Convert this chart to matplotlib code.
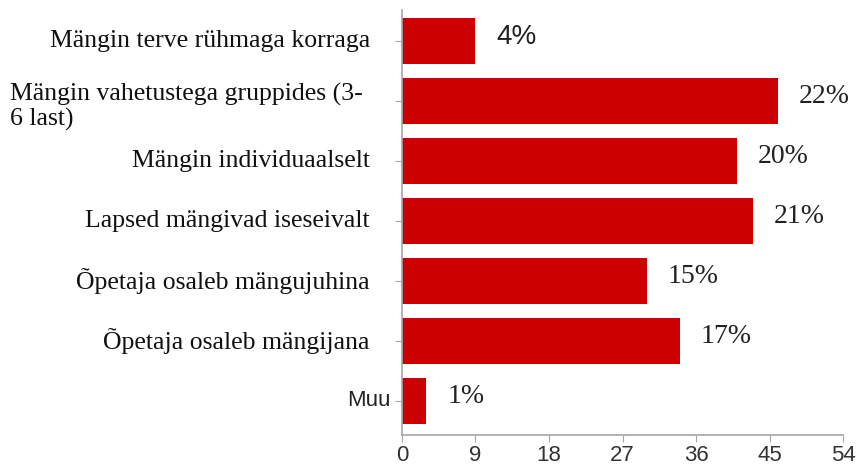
import matplotlib
matplotlib.use('Agg')
import matplotlib.pyplot as plt

labels = ['Mängin terve rühmaga korraga',
          'Mängin vahetustega gruppides (3-\n6 last)',
          'Mängin individuaalselt',
          'Lapsed mängivad iseseivalt',
          'Õpetaja osaleb mängujuhina',
          'Õpetaja osaleb mängijana',
          'Muu']
counts = [9, 46, 41, 43, 30, 34, 3]
pct_labels = ['4%', '22%', '20%', '21%', '15%', '17%', '1%']
xticks = [0, 9, 18, 27, 36, 45, 54]

bar_color = '#cc0000'
axis_color = '#a6a6a6'

fig = plt.figure(figsize=(8.57, 4.68), dpi=100)
ax = fig.add_axes([0.469, 0.0705, 0.515, 0.908])

ypos = list(range(len(labels)))
ax.barh(ypos, counts, height=0.78, color=bar_color)

ax.set_xlim(0, 54)
ax.set_ylim(6.567, -0.517)
ax.set_xticks(xticks)
ax.set_xticklabels([str(x) for x in xticks], family='Liberation Sans', fontsize=16, color='#333333')
ax.set_yticks(ypos)
ax.set_yticklabels([])
ax.tick_params(axis='x', length=5, color=axis_color, pad=2)
ax.tick_params(axis='y', length=5, color=axis_color)

for s in ['top', 'right']:
    ax.spines[s].set_visible(False)
for s in ['left', 'bottom']:
    ax.spines[s].set_color(axis_color)
    ax.spines[s].set_linewidth(1.2)

# category labels (serif, right aligned next to the axis; multi-line one left aligned)
tr = ax.get_yaxis_transform()
for i, lab in enumerate(labels):
    if lab == 'Muu':
        ax.text(-0.027, i, lab, transform=tr, ha='right', va='center',
                family='Liberation Sans', fontsize=16, color='#222222')
    elif '\n' in lab:
        ax.text(-0.889, i + 0.1, lab, transform=tr, ha='left', va='center',
                family='Liberation Serif', fontsize=18.5, color='#111111', linespacing=1.1)
    else:
        ax.text(-0.0726, i, lab, transform=tr, ha='right', va='center',
                family='Liberation Serif', fontsize=18.5, color='#111111')

# percentage labels
for i, (v, p) in enumerate(zip(counts, pct_labels)):
    fam = 'Liberation Sans' if i == 0 else 'Liberation Serif'
    ax.annotate(p, (v, i), xytext=(15, 3), textcoords='offset points',
                ha='left', va='center', family=fam, fontsize=20, color='#222222')

fig.savefig('out.png', dpi=100)
